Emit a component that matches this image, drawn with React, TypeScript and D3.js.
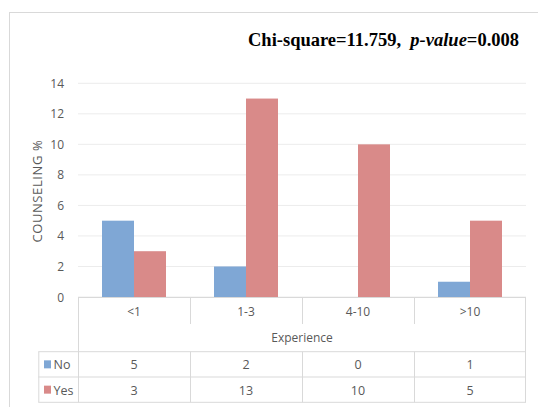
import React from "react";
import * as d3 from "d3";

const categories = ["<1", "1-3", "4-10", ">10"];
const seriesNames = ["No", "Yes"];
const noValues = [5, 2, 0, 1];
const yesValues = [3, 13, 10, 5];
const yTicks = [0, 2, 4, 6, 8, 10, 12, 14];
const seriesColors = ["#7fa7d5", "#d98a89"];

const W = 538;
const H = 407;
const plot = { left: 78, right: 526, top: 83.3, bottom: 297 };
const table = { left: 38.3, headerBottom: 324, titleBottom: 351.7, rowH: 25.3 };

const FONT = "'Open Sans', 'Noto Sans', sans-serif";
const TEXT = "#595959";
const GRID = "#ececec";
const RULE = "#d9d9d9";

export default function App() {
  const values = [noValues, yesValues];
  const x = d3.scaleBand<string>().domain(categories).range([plot.left, plot.right]).padding(0);
  const xs = d3
    .scaleBand<string>()
    .domain(seriesNames)
    .range([0, x.bandwidth()])
    .paddingInner(0)
    .paddingOuter(0.75);
  const y = d3.scaleLinear().domain([0, 14]).range([plot.bottom, plot.top]);

  const rowsTop = table.titleBottom;
  const tableBottom = rowsTop + table.rowH * seriesNames.length;

  return (
    <svg
      width={W}
      height={H}
      style={{ position: "absolute", left: 0, top: 0, display: "block" }}
    >
      <rect x={0} y={0} width={W} height={H} fill="#ffffff" />
      {/* chart frame */}
      <rect x={9.5} y={12.5} width={W + 10} height={H + 10} fill="none" stroke={RULE} strokeWidth={1} />

      {/* title */}
      <text
        x={248}
        y={46}
        fontFamily="'Liberation Serif', 'Times New Roman', serif"
        fontWeight="bold"
        fontSize={18.5}
        fill="#000"
        style={{ whiteSpace: "pre" }}
      >
        {"Chi-square=11.759,  "}
        <tspan fontStyle="italic">p-value</tspan>=0.008
      </text>

      {/* gridlines */}
      {yTicks.map((t) => (
        <line
          key={"g" + t}
          x1={plot.left}
          x2={plot.right}
          y1={y(t)}
          y2={y(t)}
          stroke={GRID}
          strokeWidth={1}
        />
      ))}

      {/* y tick labels */}
      {yTicks.map((t) => (
        <text
          key={"t" + t}
          x={64}
          y={y(t) + 4.5}
          textAnchor="end"
          fontFamily={FONT}
          fontSize={12}
          fill={TEXT}
        >
          {t}
        </text>
      ))}

      {/* y axis title */}
      <text
        transform={`translate(41.5,${(plot.top + plot.bottom) / 2 + 1}) rotate(-90)`}
        textAnchor="middle"
        fontFamily={FONT}
        fontSize={13}
        letterSpacing={0.6}
        fill={TEXT}
      >
        COUNSELING %
      </text>

      {/* bars */}
      {categories.map((c, i) =>
        seriesNames.map((s, j) => {
          const v = values[j][i];
          return (
            <rect
              key={c + s}
              x={(x(c) as number) + (xs(s) as number)}
              y={y(v)}
              width={xs.bandwidth()}
              height={y(0) - y(v)}
              fill={seriesColors[j]}
            />
          );
        })
      )}

      {/* data table */}
      <g stroke={RULE} strokeWidth={1} fill="none">
        <line x1={plot.left} x2={plot.right} y1={plot.bottom + 0.5} y2={plot.bottom + 0.5} />
        <line x1={plot.left + 0.5} x2={plot.left + 0.5} y1={plot.bottom} y2={tableBottom} />
        <line x1={plot.right - 0.5} x2={plot.right - 0.5} y1={plot.bottom} y2={tableBottom} />
        {categories.slice(1).map((c) => (
          <line
            key={"hv" + c}
            x1={(x(c) as number) + 0.5}
            x2={(x(c) as number) + 0.5}
            y1={plot.bottom}
            y2={table.headerBottom}
          />
        ))}
        {categories.slice(1).map((c) => (
          <line
            key={"rv" + c}
            x1={(x(c) as number) + 0.5}
            x2={(x(c) as number) + 0.5}
            y1={rowsTop}
            y2={tableBottom}
          />
        ))}
        <line x1={table.left + 0.5} x2={table.left + 0.5} y1={rowsTop} y2={tableBottom} />
        {[0, 1, 2].map((k) => (
          <line
            key={"rh" + k}
            x1={table.left}
            x2={plot.right}
            y1={rowsTop + k * table.rowH}
            y2={rowsTop + k * table.rowH}
          />
        ))}
      </g>

      {/* category labels */}
      {categories.map((c) => (
        <text
          key={"c" + c}
          x={(x(c) as number) + x.bandwidth() / 2}
          y={315.5}
          textAnchor="middle"
          fontFamily={FONT}
          fontSize={12}
          fill={TEXT}
        >
          {c}
        </text>
      ))}

      {/* x axis title */}
      <text
        x={(plot.left + plot.right) / 2}
        y={341.5}
        textAnchor="middle"
        fontFamily={FONT}
        fontSize={12}
        fill={TEXT}
      >
        Experience
      </text>

      {/* legend keys and row values */}
      {seriesNames.map((s, j) => {
        const rowMid = rowsTop + table.rowH * (j + 0.5);
        return (
          <g key={"row" + s}>
            <rect x={44} y={rowMid - 4} width={7} height={8} fill={seriesColors[j]} />
            <text
              x={53.5}
              y={rowMid + 5}
              fontFamily={FONT}
              fontSize={12.5}
              fill={TEXT}
            >
              {s}
            </text>
            {categories.map((c, i) => (
              <text
                key={s + c}
                x={(x(c) as number) + x.bandwidth() / 2}
                y={rowMid + 5}
                textAnchor="middle"
                fontFamily={FONT}
                fontSize={12.5}
                fill={TEXT}
              >
                {values[j][i]}
              </text>
            ))}
          </g>
        );
      })}
    </svg>
  );
}
